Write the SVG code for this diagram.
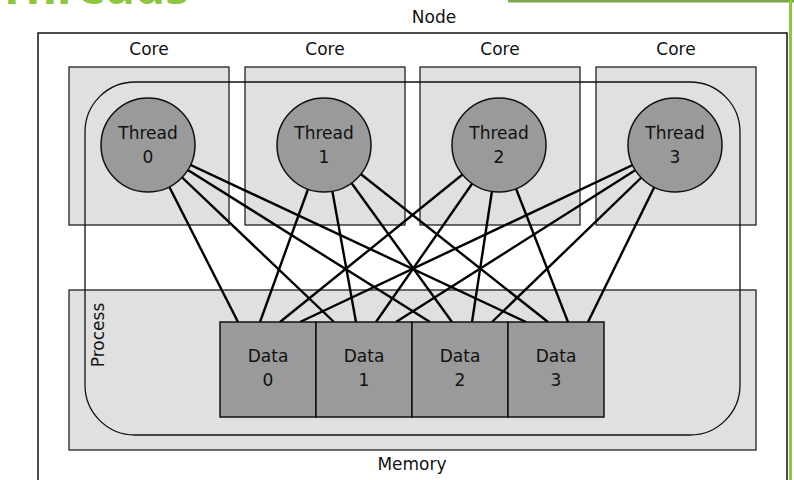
<svg xmlns="http://www.w3.org/2000/svg" width="794" height="480" viewBox="0 0 794 480">
<style>
text{font-family:"DejaVu Sans",sans-serif;font-size:17px;fill:#111;text-anchor:middle}
.box{fill:#e0e0e0;stroke:#222;stroke-width:1.3}
.th{fill:#9a9a9a;stroke:#111;stroke-width:1.5}
.data{fill:#9a9a9a;stroke:#111;stroke-width:1.5}
#connectors line{stroke:#000;stroke-width:2.4}
</style>
<rect width="794" height="480" fill="#fff"/>
<text x="-2" y="4" style="font-size:48px;font-weight:bold;fill:#8dc63f;text-anchor:start;font-family:'Noto Sans',sans-serif">Threads</text>
<rect x="508" y="0" width="286" height="2.5" fill="#7aa84a"/>
<rect x="789" y="0" width="3" height="480" fill="#8dc63f"/>
<g id="node"><rect x="38" y="33" width="749" height="460" fill="#fff" stroke="#111" stroke-width="1.5"/><text x="434" y="23">Node</text></g>
<g id="cores">
<rect class="box" x="69" y="67" width="160" height="158"/><text x="149" y="55">Core</text>
<rect class="box" x="245" y="67" width="160" height="158"/><text x="325" y="55">Core</text>
<rect class="box" x="420" y="67" width="160" height="158"/><text x="500" y="55">Core</text>
<rect class="box" x="596" y="67" width="160" height="158"/><text x="676" y="55">Core</text>
</g>
<g id="memory"><rect class="box" x="69" y="290" width="687" height="160"/><text x="412" y="470">Memory</text></g>
<g id="process"><rect x="85" y="82" width="655" height="353" rx="50" fill="none" stroke="#111" stroke-width="1.3"/><text transform="translate(104,335) rotate(-90)">Process</text></g>
<g id="connectors">
<line x1="148" y1="145" x2="238" y2="322"/><line x1="148" y1="145" x2="334" y2="322"/><line x1="148" y1="145" x2="430" y2="322"/><line x1="148" y1="145" x2="526" y2="322"/>
<line x1="324" y1="145" x2="260" y2="322"/><line x1="324" y1="145" x2="356" y2="322"/><line x1="324" y1="145" x2="452" y2="322"/><line x1="324" y1="145" x2="548" y2="322"/>
<line x1="499" y1="145" x2="280" y2="322"/><line x1="499" y1="145" x2="376" y2="322"/><line x1="499" y1="145" x2="472" y2="322"/><line x1="499" y1="145" x2="568" y2="322"/>
<line x1="675" y1="145" x2="300" y2="322"/><line x1="675" y1="145" x2="396" y2="322"/><line x1="675" y1="145" x2="492" y2="322"/><line x1="675" y1="145" x2="588" y2="322"/>
</g>
<g id="thread0"><circle class="th" cx="148" cy="145" r="47"/><text x="148" y="139">Thread</text><text x="148" y="163">0</text></g>
<g id="thread1"><circle class="th" cx="324" cy="145" r="47"/><text x="324" y="139">Thread</text><text x="324" y="163">1</text></g>
<g id="thread2"><circle class="th" cx="499" cy="145" r="47"/><text x="499" y="139">Thread</text><text x="499" y="163">2</text></g>
<g id="thread3"><circle class="th" cx="675" cy="145" r="47"/><text x="675" y="139">Thread</text><text x="675" y="163">3</text></g>
<g id="data0"><rect class="data" x="220" y="322" width="96" height="95"/><text x="268" y="362">Data</text><text x="268" y="386">0</text></g>
<g id="data1"><rect class="data" x="316" y="322" width="96" height="95"/><text x="364" y="362">Data</text><text x="364" y="386">1</text></g>
<g id="data2"><rect class="data" x="412" y="322" width="96" height="95"/><text x="460" y="362">Data</text><text x="460" y="386">2</text></g>
<g id="data3"><rect class="data" x="508" y="322" width="96" height="95"/><text x="556" y="362">Data</text><text x="556" y="386">3</text></g>
</svg>
